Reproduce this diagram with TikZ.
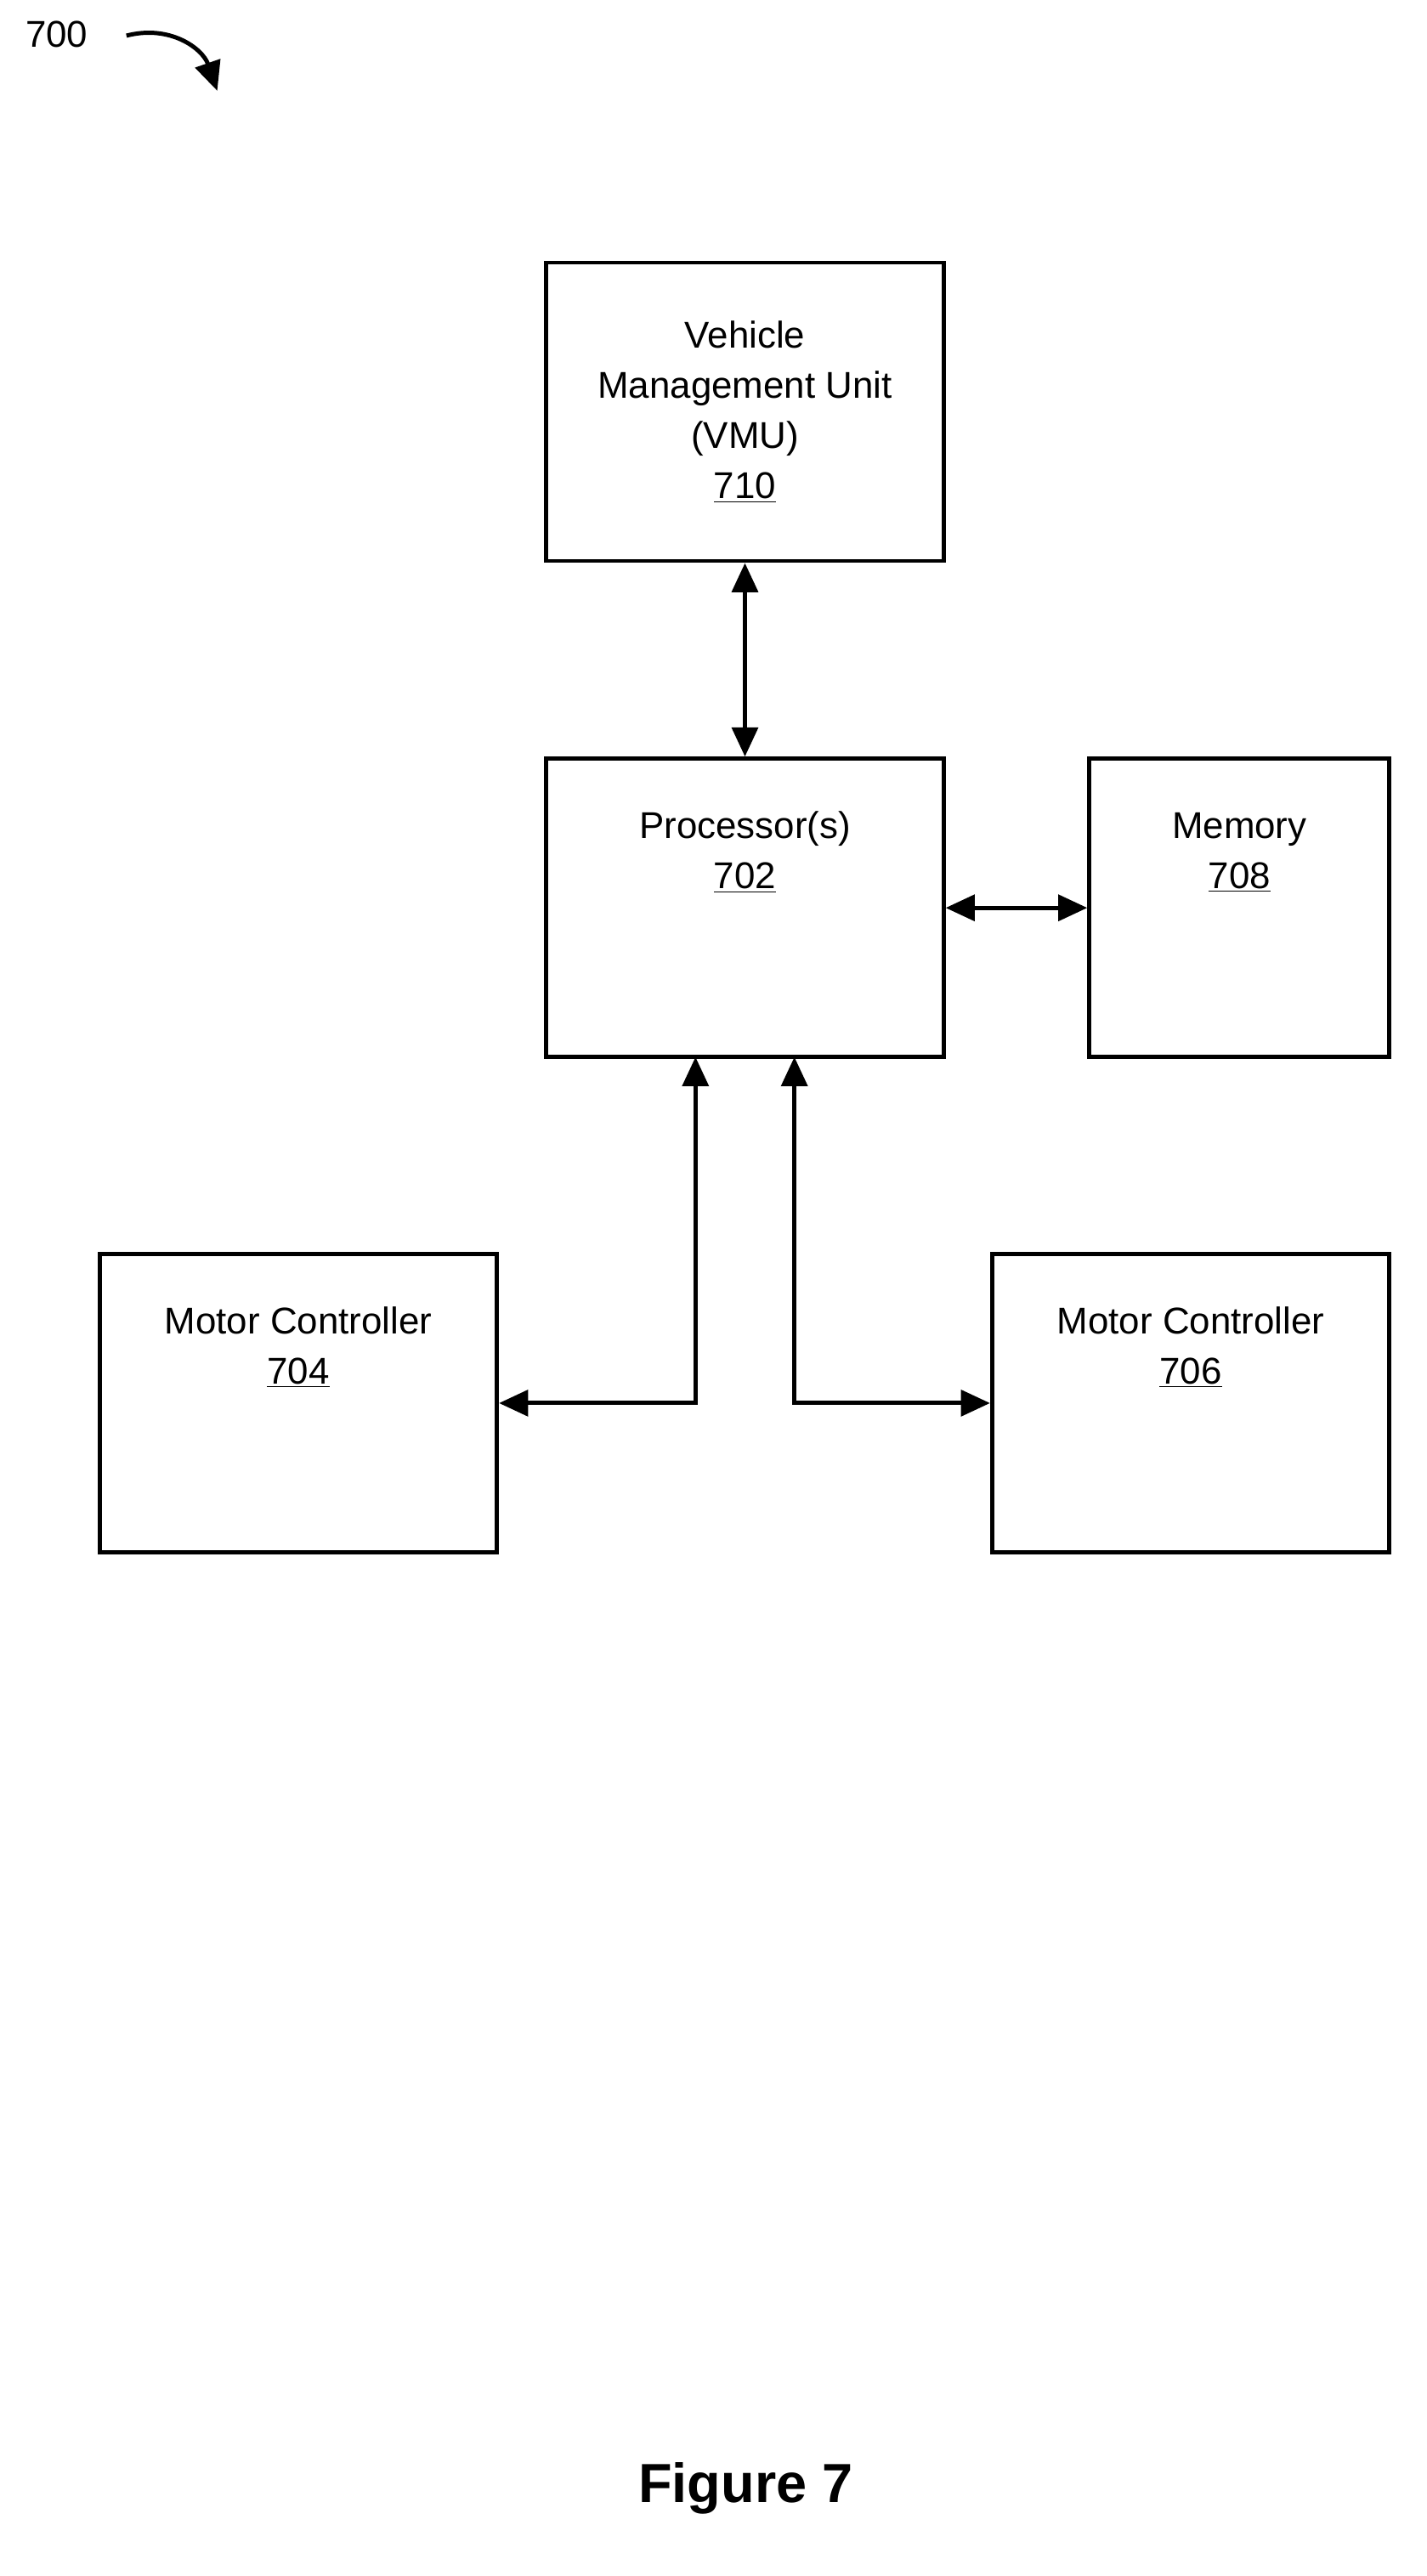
\documentclass[tikz,border=0pt]{standalone}
\usepackage{fontspec}
\setmainfont{Liberation Sans}
\usetikzlibrary{arrows.meta}
\begin{document}
\begin{tikzpicture}[x=1pt,y=-1pt,
  box/.style={draw,line width=2.6pt,minimum width=245pt,minimum height=184pt,align=center,font=\fontsize{23}{31}\selectfont,inner sep=0pt},
  con/.style={line width=2.6pt,{Triangle[length=18pt,width=16pt]}-{Triangle[length=18pt,width=16pt]}}]
\useasboundingbox (0,0) rectangle (880,1589);
\node[box] (vmu) at (459.5,254) {Vehicle\\Management Unit\\(VMU)\\\underline{710}};
\node[box] (proc) at (459.5,560) {Processor(s)\\\underline{702}\\[40pt]};
\node[box,minimum width=185pt] (mem) at (764.5,560) {Memory\\\underline{708}\\[40pt]};
\node[box] (m4) at (184,865.5) {Motor Controller\\\underline{704}\\[40pt]};
\node[box] (m6) at (734.5,865.5) {Motor Controller\\\underline{706}\\[40pt]};
\node[font=\fontsize{23}{28}\selectfont] (lbl) at (35,21) {700};
\node[font=\bfseries\fontsize{34}{40}\selectfont] (fig) at (460,1535) {Figure 7};
\coordinate (a1) at (78,22);
\coordinate (a2) at (134,56);
\draw[line width=2.6pt,-{Triangle[length=18pt,width=16pt]}] (a1) .. controls (105,15) and (125,30) .. (a2);
\draw[con] (vmu.south) -- (proc.north);
\draw[con] (proc.east) -- (mem.west);
\draw[con] (m4.east) -- (429,865.5) -- (429,652);
\draw[con] (m6.west) -- (490,865.5) -- (490,652);
\end{tikzpicture}
\end{document}
